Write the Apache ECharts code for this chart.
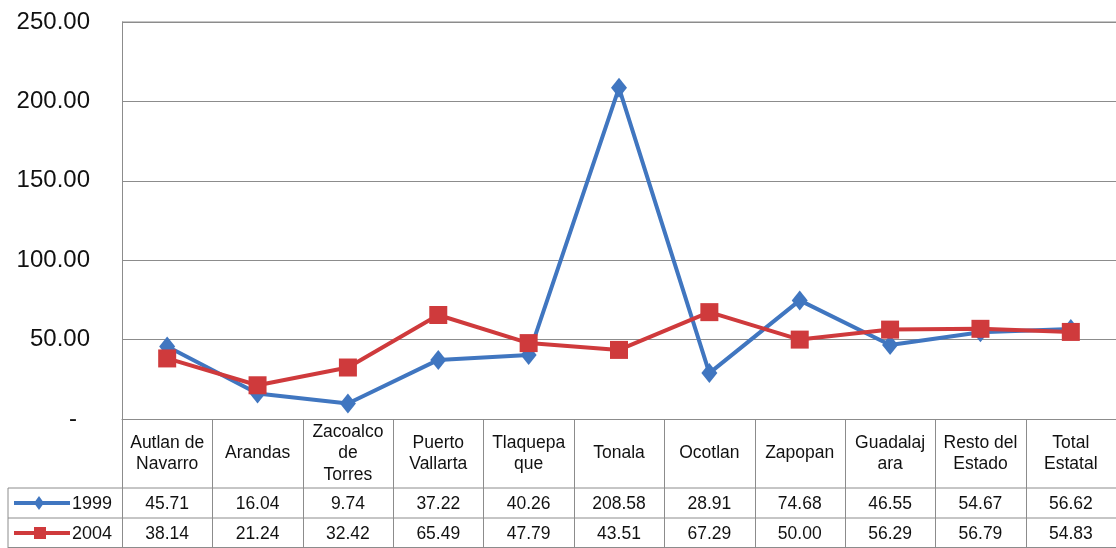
<!DOCTYPE html>
<html>
<head>
<meta charset="utf-8">
<script src="https://cdn.jsdelivr.net/npm/echarts@6/dist/echarts.min.js"></script>
<style>
  html, body { margin: 0; padding: 0; background: #fff; }
  #chart { width: 1116px; height: 548px; }
</style>
</head>
<body>
<div id="chart"></div>
<script>
'use strict';

// categorias (con saltos de linea como en la tabla)
var categories = ['Autlan de\nNavarro', 'Arandas', 'Zacoalco\nde\nTorres', 'Puerto\nVallarta',
    'Tlaquepa\nque', 'Tonala', 'Ocotlan', 'Zapopan', 'Guadalaj\nara', 'Resto del\nEstado', 'Total\nEstatal'];
var seriesNames = ['1999', '2004'];
var values1999 = [45.71, 16.04, 9.74, 37.22, 40.26, 208.58, 28.91, 74.68, 46.55, 54.67, 56.62];
var values2004 = [38.14, 21.24, 32.42, 65.49, 47.79, 43.51, 67.29, 50.00, 56.29, 56.79, 54.83];
var yTicks = [0, 50, 100, 150, 200, 250];

var BLUE = '#4076c0';
var RED = '#cf3a3c';
var LINE = '#8c8c8c';
var FONT = '"Liberation Sans", Arial, sans-serif';

var chart = echarts.init(document.getElementById('chart'));

var option = {
    animation: false,
    grid: { left: 122, right: 0, top: 22, bottom: 129 },
    xAxis: {
        type: 'category',
        data: categories,
        boundaryGap: true,
        axisLine: { lineStyle: { color: LINE, width: 1 } },
        axisTick: { show: false },
        axisLabel: { show: false }
    },
    yAxis: {
        type: 'value',
        min: yTicks[0],
        max: yTicks[yTicks.length - 1],
        interval: 50,
        axisLine: { show: true, lineStyle: { color: LINE, width: 1 } },
        axisTick: { show: false },
        axisLabel: {
            margin: 32,
            color: '#111',
            fontSize: 24,
            fontFamily: FONT,
            formatter: function (v) {
                // el cero se muestra como guion, como en Excel
                return v === 0 ? '{z|-}' : v.toFixed(2);
            },
            rich: {
                z: { fontSize: 24, fontFamily: FONT, color: '#111', padding: [0, 13, 0, 0] }
            }
        },
        splitLine: { lineStyle: { color: LINE, width: 1 } }
    },
    series: [
        {
            name: seriesNames[0],
            type: 'line',
            data: values1999,
            symbol: 'diamond',
            symbolSize: [16, 20],
            lineStyle: { color: BLUE, width: 4 },
            itemStyle: { color: BLUE },
            z: 2
        },
        {
            name: seriesNames[1],
            type: 'line',
            data: values2004,
            symbol: 'rect',
            symbolSize: 18,
            lineStyle: { color: RED, width: 4 },
            itemStyle: { color: RED },
            z: 3
        }
    ]
};
chart.setOption(option);

// tabla de datos debajo del eje, alineada con las categorias
function buildTable() {
    var x0 = chart.convertToPixel({ xAxisIndex: 0 }, categories[0]);
    var x1 = chart.convertToPixel({ xAxisIndex: 0 }, categories[1]);
    var step = x1 - x0;
    var yAxis0 = chart.convertToPixel({ yAxisIndex: 0 }, 0);
    var headBottom = yAxis0 + 69;
    var row1Bottom = headBottom + 30;
    var row2Bottom = row1Bottom + 30;
    var leftEdge = 8;
    var rightEdge = x0 - step / 2 + step * categories.length;
    var els = [];
    var ls = { stroke: LINE, lineWidth: 1 };

    // lineas horizontales
    [headBottom, row1Bottom, row2Bottom - 0.5].forEach(function (y) {
        els.push({ type: 'line', shape: { x1: leftEdge, y1: y, x2: rightEdge, y2: y }, style: ls, silent: true });
    });
    els.push({ type: 'line', shape: { x1: leftEdge, y1: headBottom, x2: leftEdge, y2: row2Bottom }, style: ls });

    // lineas verticales
    for (var i = 0; i <= categories.length; i++) {
        var bx = Math.round(x0 - step / 2 + step * i) + 0.5;
        els.push({ type: 'line', shape: { x1: bx, y1: yAxis0, x2: bx, y2: row2Bottom }, style: ls });
    }

    var txt = { fill: '#111', fontSize: 17.5, fontFamily: FONT, align: 'center', verticalAlign: 'middle' };
    categories.forEach(function (c, i) {
        var cx = chart.convertToPixel({ xAxisIndex: 0 }, c);
        els.push({ type: 'text', x: cx, y: (yAxis0 + headBottom) / 2,
            style: Object.assign({ text: c, lineHeight: 21.5 }, txt) });
        els.push({ type: 'text', x: cx, y: (headBottom + row1Bottom) / 2 + 1,
            style: Object.assign({ text: values1999[i].toFixed(2) }, txt) });
        els.push({ type: 'text', x: cx, y: (row1Bottom + row2Bottom) / 2 + 1,
            style: Object.assign({ text: values2004[i].toFixed(2) }, txt) });
    });

    // claves de leyenda
    var keys = [
        { y: (headBottom + row1Bottom) / 2, color: BLUE, name: seriesNames[0], sym: 'diamond' },
        { y: (row1Bottom + row2Bottom) / 2, color: RED, name: seriesNames[1], sym: 'rect' }
    ];
    keys.forEach(function (k) {
        els.push({ type: 'line', shape: { x1: 14, y1: k.y, x2: 70, y2: k.y },
            style: { stroke: k.color, lineWidth: 4 } });
        if (k.sym === 'diamond') {
            els.push({ type: 'polygon', shape: { points: [[39, k.y - 7], [44, k.y], [39, k.y + 7], [34, k.y]] },
                style: { fill: k.color } });
        } else {
            els.push({ type: 'rect', shape: { x: 34, y: k.y - 6, width: 12, height: 12 },
                style: { fill: k.color } });
        }
        els.push({ type: 'text', x: 72, y: k.y + 1,
            style: { text: k.name, fill: '#111', fontSize: 18, fontFamily: FONT, align: 'left', verticalAlign: 'middle' } });
    });

    // borde superior del area de trazado
    var yTop = chart.convertToPixel({ yAxisIndex: 0 }, yTicks[yTicks.length - 1]);
    els.push({ type: 'line', shape: { x1: x0 - step / 2, y1: yTop, x2: rightEdge, y2: yTop }, style: ls });

    chart.setOption({ graphic: els });
}
buildTable();
</script>
</body>
</html>
